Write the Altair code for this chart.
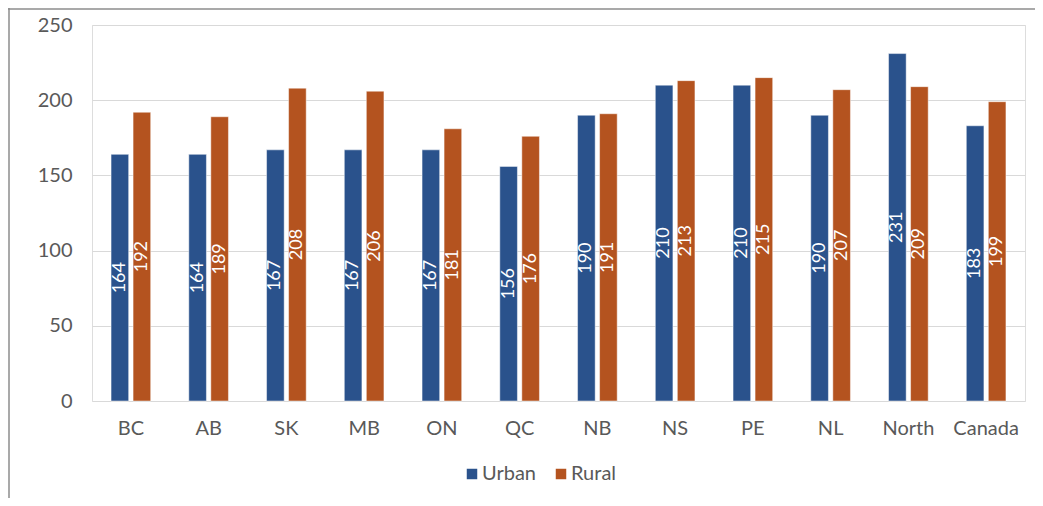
import altair as alt
import pandas as pd

regions = ["BC", "AB", "SK", "MB", "ON", "QC", "NB", "NS", "PE", "NL", "North", "Canada"]
urban = [164, 164, 167, 167, 167, 156, 190, 210, 210, 190, 231, 183]
rural = [192, 189, 208, 206, 181, 176, 191, 213, 215, 207, 209, 199]
series = ["Urban", "Rural"]
colors = ["#2a528c", "#b4531f"]
y_ticks = [0, 50, 100, 150, 200, 250]

rows = []
for r, u, ru in zip(regions, urban, rural):
    rows.append({"region": r, "series": "Urban", "value": u})
    rows.append({"region": r, "series": "Rural", "value": ru})
df = pd.DataFrame(rows)

FONT = "Lato"
W, H = 933, 376
PAD_L, PAD_T, PAD_R, PAD_B = 84, 17, 10, 97

x = alt.X("region:N", sort=regions, title=None,
          scale=alt.Scale(paddingInner=0.49, paddingOuter=0.245, round=False),
          axis=alt.Axis(labelAngle=0, labelFont=FONT, labelFontSize=20,
                        labelColor="#595959", ticks=False, domain=False,
                        labelPadding=17))
xo = alt.XOffset("series:N", sort=series,
                 scale=alt.Scale(paddingInner=0.2, paddingOuter=0, round=False))
y = alt.Y("value:Q", title=None,
          scale=alt.Scale(domain=[0, 250], nice=False),
          axis=alt.Axis(values=y_ticks, labelFont=FONT, labelFontSize=20,
                        labelColor="#595959", ticks=False, domain=False,
                        labelPadding=20, gridColor="#d9d9d9", gridWidth=1.2))

bars = alt.Chart(df).mark_bar(stroke="white", strokeWidth=0.8, strokeOpacity=0.6).encode(
    x=x, xOffset=xo, y=y,
    color=alt.Color("series:N", sort=series,
                    scale=alt.Scale(domain=series, range=colors),
                    legend=alt.Legend(title=None, orient="none", direction="horizontal",
                                      legendX=370, legendY=439,
                                      symbolType="square", symbolSize=110,
                                      symbolStrokeWidth=0,
                                      labelFont=FONT, labelFontSize=20,
                                      labelColor="#595959", columnPadding=15,
                                      labelOffset=0)),
)

labels = alt.Chart(df).transform_calculate(mid="datum.value / 2").mark_text(
    angle=270, color="white", font=FONT, fontSize=18, align="center", baseline="middle"
).encode(
    x=alt.X("region:N", sort=regions),
    xOffset=alt.XOffset("series:N", sort=series),
    y=alt.Y("mid:Q"),
    text=alt.Text("value:Q"),
)

frame_top = alt.Chart(pd.DataFrame({"a": [0]})).mark_rule(color="#8c8c8c", strokeWidth=1.5).encode(
    x=alt.value(-PAD_L), x2=alt.value(W + PAD_R), y=alt.value(-PAD_T + 1)
)
frame_left = alt.Chart(pd.DataFrame({"a": [0]})).mark_rule(color="#8c8c8c", strokeWidth=1.5).encode(
    x=alt.value(-PAD_L + 1), y=alt.value(-PAD_T), y2=alt.value(H + PAD_B)
)

chart = alt.layer(bars, labels, frame_top, frame_left).properties(
    width=W, height=H,
    autosize=alt.AutoSizeParams(type="none"),
    padding={"left": PAD_L, "top": PAD_T, "right": PAD_R, "bottom": PAD_B},
).configure_view(stroke=None).configure(background="white")

chart.save("out.html", embed_options={"renderer": "svg", "actions": False})
